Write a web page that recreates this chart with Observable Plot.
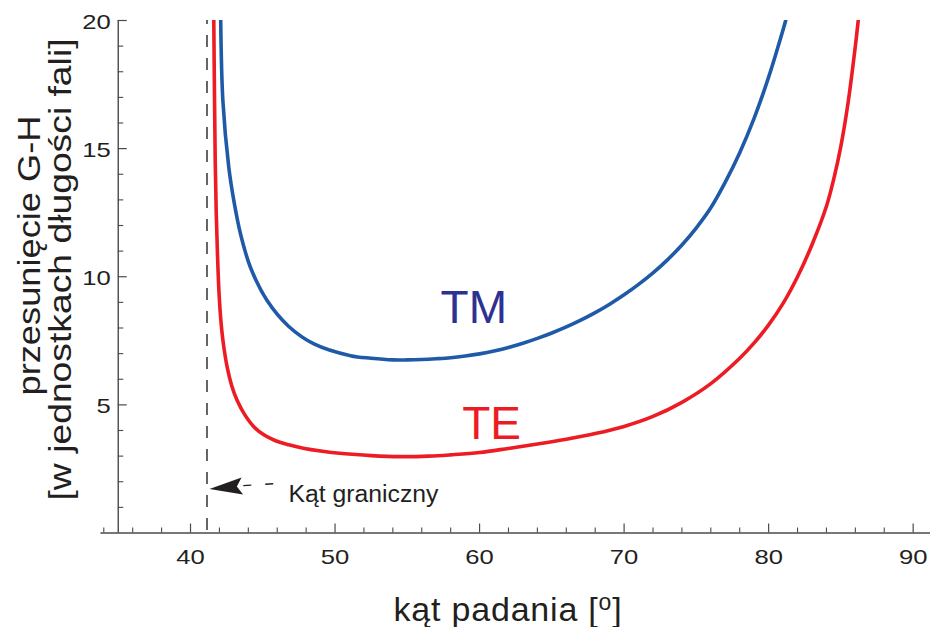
<!DOCTYPE html>
<html><head><meta charset="utf-8">
<script src="https://cdn.jsdelivr.net/npm/d3@7"></script>
<script src="https://cdn.jsdelivr.net/npm/@observablehq/plot@0.6"></script>
<style>html,body{margin:0;padding:0;background:#fff;} svg{display:block;}</style>
</head><body><div id="chart"></div>
<script>
// ---- data ----
const teAngle = [41.61, 41.66, 41.71, 41.78, 41.87, 41.97, 42.1, 42.27, 42.54, 42.85, 43.23, 43.75, 44.38, 45.1, 45.88, 46.8, 47.8, 49.0, 50.5, 52.5, 54.5, 56.5, 58.0, 60.0, 62.0, 64.0, 66.0, 68.0, 70.0, 72.0, 74.0, 76.0, 78.0, 79.0, 80.0, 81.0, 82.0, 83.0, 84.0, 84.5, 85.0, 85.5, 86.0, 86.2];
const teShift = [20, 17.0, 14.5, 12.5, 10.8, 9.4, 8.3, 7.4, 6.46, 5.75, 5.17, 4.62, 4.15, 3.82, 3.6, 3.44, 3.31, 3.2, 3.1, 3.02, 2.98, 3.0, 3.05, 3.14, 3.3, 3.47, 3.66, 3.88, 4.16, 4.55, 5.1, 5.83, 6.82, 7.42, 8.12, 8.96, 10.0, 11.25, 12.75, 13.8, 15.1, 16.8, 19.0, 20];
const tmAngle = [42.09, 42.24, 42.65, 43.0, 43.46, 44.15, 45.31, 46.78, 48.54, 51.07, 52.5, 54.0, 55.0, 56.0, 57.0, 58.0, 59.0, 60.0, 61.0, 62.0, 63.0, 64.0, 65.0, 66.0, 67.0, 68.0, 69.0, 70.0, 71.0, 72.0, 73.0, 74.0, 75.0, 76.0, 77.0, 78.0, 79.0, 80.0, 81.0, 81.18];
const tmShift = [20, 16.86, 14.26, 12.96, 11.67, 10.36, 9.06, 8.07, 7.38, 6.92, 6.82, 6.755, 6.755, 6.77, 6.8, 6.84, 6.905, 6.99, 7.1, 7.24, 7.405, 7.595, 7.805, 8.04, 8.305, 8.6, 8.93, 9.295, 9.7, 10.15, 10.66, 11.24, 11.91, 12.69, 13.69, 14.84, 16.19, 17.79, 19.64, 20];

const xMajorTicks = [40, 50, 60, 70, 80, 90];
const xMinorTicks = [34, 36, 38, 42, 44, 46, 48, 52, 54, 56, 58, 62, 64, 66, 68, 72, 74, 76, 78, 82, 84, 86, 88];
const yMajorTicks = [5, 10, 15, 20];
const yMinorTicks = [1, 2, 3, 4, 6, 7, 8, 9, 11, 12, 13, 14, 16, 17, 18, 19];
const xDomain = [35, 91.2];
const yDomain = [0, 20];
const xAxisExtent = [33.8, 91.2];
const criticalAngle = 41.14;

const curveLabels = ["TM", "TE"];
const curveLabelAngle = [57.3, 58.8];
const curveLabelShift = [8.18, 3.67];
const curveLabelColors = ["#2e3192", "#ed1c24"];

const annotationText = "Kąt graniczny";
const arrowTip = [41.31, 1.72];
const leaderStart = [43.65, 1.85];
const leaderEnd = [46.0, 1.93];
const annotationPos = [46.78, 1.2];

const xTitle = "kąt padania [o]";
const yTitleLines = ["przesunięcie G-H", "[w jednostkach długości fali]"];

// ---- layout ----
const W = 932, H = 627;
const mL = 117.75, mR = 2, mT = 20, mB = 94.5;
const frameW = W - mL - mR, frameH = H - mT - mB;
const axisColor = "#4a4a4a";
const textColor = "#231f20";

const te = teAngle.map((x, i) => ({x, y: teShift[i]}));
const tm = tmAngle.map((x, i) => ({x, y: tmShift[i]}));
const labels = curveLabels.map((t, i) => ({t, x: curveLabelAngle[i], y: curveLabelShift[i], c: curveLabelColors[i]}));

const a = -5 * Math.PI / 180;
const arrowSymbol = {
  draw(ctx) {
    const pts = [[0, 0], [33, -8.5], [27.5, 0], [33, 8.5]].map(([px, py]) => [px * Math.cos(a) - py * Math.sin(a), px * Math.sin(a) + py * Math.cos(a)]);
    ctx.moveTo(pts[0][0], pts[0][1]);
    for (let i = 1; i < pts.length; i++) ctx.lineTo(pts[i][0], pts[i][1]);
    ctx.closePath();
  }
};

const svg = Plot.plot({
  width: W, height: H,
  marginLeft: mL, marginRight: mR, marginTop: mT, marginBottom: mB,
  style: {fontFamily: "'Liberation Sans', Arial, sans-serif", background: "#fff", overflow: "visible"},
  x: {domain: xDomain, axis: null},
  y: {domain: yDomain, axis: null},
  marks: [
    // axes
    Plot.ruleY([0], {x1: xAxisExtent[0], x2: xAxisExtent[1], stroke: axisColor, strokeWidth: 1.4}),
    Plot.ruleX([xDomain[0]], {stroke: axisColor, strokeWidth: 1.4}),
    Plot.tickX(xMajorTicks, {x: d => d, insetTop: frameH - 9, stroke: axisColor, strokeWidth: 1.2}),
    Plot.tickX(xMinorTicks, {x: d => d, insetTop: frameH - 5, stroke: axisColor, strokeWidth: 1.1}),
    Plot.tickY(yMajorTicks, {y: d => d, insetRight: frameW - 9, stroke: axisColor, strokeWidth: 1.2}),
    Plot.tickY(yMinorTicks, {y: d => d, insetRight: frameW - 5.5, stroke: axisColor, strokeWidth: 1.1}),
    Plot.text(xMajorTicks, {x: d => d, y: 0, text: d => String(d), dy: 30.8, lineAnchor: "bottom", textAnchor: "middle", fontSize: 21, fill: textColor}),
    Plot.text(yMajorTicks, {x: xDomain[0], y: d => d, text: d => String(d), dx: -7.5, dy: 8.6, lineAnchor: "bottom", textAnchor: "end", fontSize: 21, fill: textColor}),
    // critical angle
    Plot.ruleX([criticalAngle], {stroke: "#555", strokeWidth: 1.8, strokeDasharray: "12,11", strokeDashoffset: 8, insetBottom: -4}),
    // curves
    Plot.line(te, {x: "x", y: "y", stroke: "#ed1c24", strokeWidth: 3.6, curve: "catmull-rom", clip: true}),
    Plot.line(tm, {x: "x", y: "y", stroke: "#1f5aa8", strokeWidth: 3.6, curve: "catmull-rom", clip: true}),
    Plot.text(labels, {x: "x", y: "y", text: "t", fill: "c", fontSize: 46, textAnchor: "start", lineAnchor: "bottom"}),
    // annotation
    Plot.link([{x1: leaderStart[0], y1: leaderStart[1], x2: leaderEnd[0], y2: leaderEnd[1]}], {x1: "x1", y1: "y1", x2: "x2", y2: "y2", stroke: textColor, strokeWidth: 1.4, strokeDasharray: "8,14"}),
    Plot.dot([arrowTip], {x: d => d[0], y: d => d[1], symbol: arrowSymbol, r: 4, fill: textColor, stroke: "none"}),
    Plot.text([annotationPos], {x: d => d[0], y: d => d[1], text: () => annotationText, textAnchor: "start", lineAnchor: "bottom", fontSize: 23, fill: textColor}),
    // titles
    Plot.text([xTitle], {text: d => d, frameAnchor: "bottom", dx: -16.4, dy: 87.5, lineAnchor: "bottom", textAnchor: "middle", fontSize: 34, fill: textColor}),
    Plot.text([yTitleLines[0]], {text: d => d, frameAnchor: "left", rotate: -90, dx: 39 - mL, dy: 255 - (mT + frameH / 2), lineAnchor: "bottom", textAnchor: "middle", fontSize: 31, fill: textColor}),
    Plot.text([yTitleLines[1]], {text: d => d, frameAnchor: "left", rotate: -90, dx: 70.5 - mL, dy: 269 - (mT + frameH / 2), lineAnchor: "bottom", textAnchor: "middle", fontSize: 31, fill: textColor})
  ]
});
document.getElementById("chart").append(svg);

// ---- text stretching to match the reference glyph proportions ----
const tickStrings = new Set([...xMajorTicks, ...yMajorTicks].map(String));
function stretch(el, len) {
  el.setAttribute("textLength", len);
  el.setAttribute("lengthAdjust", "spacingAndGlyphs");
}
d3.select(svg).selectAll("text").each(function () {
  const c = this.textContent;
  if (tickStrings.has(c)) stretch(this, this.getComputedTextLength() * 1.22);
  else if (c === annotationText) stretch(this, 150);
  else if (c === yTitleLines[0]) stretch(this, 280);
  else if (c === yTitleLines[1]) stretch(this, 462);
  else if (c === xTitle) {
    const t = d3.select(this);
    t.text(null);
    t.append("tspan").text("kąt padania [");
    t.append("tspan").attr("font-size", 23).attr("dy", -11).text("o");
    t.append("tspan").attr("dy", 11).text("]");
    this.style.letterSpacing = "0.8px";
  }
});
</script>
</body></html>
